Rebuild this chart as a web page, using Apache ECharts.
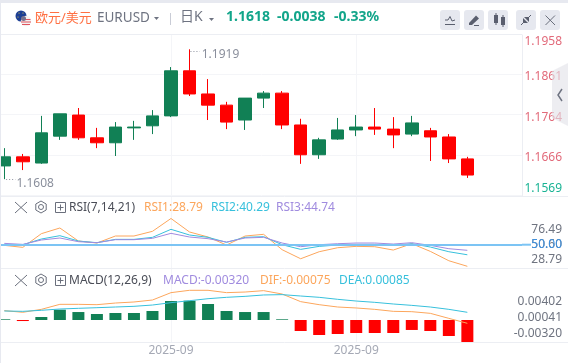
<!DOCTYPE html>
<html><head><meta charset="utf-8">
<style>html,body{margin:0;padding:0;background:#fff}#c{width:568px;height:363px}</style>
<script src="https://cdn.jsdelivr.net/npm/echarts@6/dist/echarts.min.js"></script>
</head><body><div id="c"></div>
<script>
const opens  = [1.1640,1.1662,1.1647,1.1712,1.1763,1.1708,1.1696,1.1732,1.1737,1.1761,1.1870,1.1814,1.1787,1.1751,1.1804,1.1816,1.1739,1.1667,1.1705,1.1727,1.1734,1.1729,1.1717,1.1725,1.1710,1.1657];
const closes = [1.1662,1.1650,1.1720,1.1766,1.1708,1.1696,1.1734,1.1734,1.1761,1.1870,1.1814,1.1787,1.1746,1.1804,1.1816,1.1739,1.1667,1.1703,1.1727,1.1734,1.1729,1.1715,1.1744,1.1710,1.1657,1.1618];
const lows   = [1.1608,1.1630,1.1645,1.1703,1.1703,1.1683,1.1664,1.1703,1.1717,1.1758,1.1809,1.1751,1.1729,1.1727,1.1780,1.1729,1.1645,1.1657,1.1703,1.1712,1.1715,1.1683,1.1712,1.1652,1.1647,1.1611];
const highs  = [1.1683,1.1669,1.1761,1.1766,1.1780,1.1732,1.1746,1.1749,1.1775,1.1879,1.1922,1.1850,1.1795,1.1804,1.1821,1.1821,1.1754,1.1708,1.1756,1.1763,1.1780,1.1758,1.1761,1.1732,1.1717,1.1662];
const rsi1 = [49.67,47.67,61.33,67,54,52,59,59,63.67,76.49,63,58,50,59,60.67,45.33,36.33,43.33,47.33,48.67,48.33,45,51.33,43.67,34.33,28.79];
const rsi2 = [50.67,50.33,56,59.33,54,52.33,55.67,55.67,57.67,65.67,60,57.67,52.67,57.67,58.33,50.33,45.67,48.67,50,50.67,50.67,49.67,51.33,48,43.33,40.29];
const rsi3 = [51.67,50.67,55,57,53.33,52.33,55.33,55.33,56.67,61.67,58,56.33,53,57,57.67,52,48.33,50.33,51.33,52,52,51,52.33,49.67,46.33,44.74];
const macdBars = [0.0001,-0.00015,0.00044,0.0015,0.00116,0.00087,0.00102,0.00102,0.00131,0.00276,0.00281,0.00233,0.00131,0.00116,0.00116,0.0001,-0.0016,-0.00218,-0.00204,-0.00189,-0.00189,-0.00189,-0.00145,-0.0016,-0.00233,-0.0032];
const dif = [0.00136,0.00112,0.00155,0.00228,0.00228,0.00223,0.00247,0.00262,0.00291,0.00398,0.00432,0.00432,0.00398,0.00407,0.00427,0.00378,0.00267,0.00223,0.00189,0.00175,0.00155,0.00126,0.00121,0.00097,0.00024,-0.00048];
const dea = [0.00131,0.00126,0.00141,0.0016,0.0017,0.00179,0.00189,0.00199,0.00218,0.00252,0.00281,0.0031,0.0033,0.00344,0.00364,0.00369,0.00349,0.0033,0.00301,0.00276,0.00257,0.00233,0.00213,0.00189,0.00155,0.00112];
const priceTicks = [1.1569,1.1666,1.1764,1.1861,1.1958];
const monthTickIndex = [9,19];
const monthLabel = '2025-09';
const highLabel = '1.1919', lowLabel = '1.1608';
const rsiTickLabels = [['76.49',230,'#6f7480'],['50.60',245,'#6f7480'],['50.00',245,'#3f92e0'],['28.79',260,'#6f7480']];
const macdTickLabels = [['0.00402',301.7],['0.00041',317.7],['-0.00320',333.3]];

const FONT = '"Noto Sans","Noto Sans CJK SC",sans-serif';
const UP = '#118055', DOWN = '#ff0000', GRID = '#f4f5f8', LINE='#eceef3';
const ORANGE='#fca65c', CYAN='#37c0dc', PURPLE='#a08bdf';
const idx = a => a.map((v,i)=>[i,v]);
const candles = opens.map((o,i)=>[i,o,closes[i],lows[i],highs[i]]);

const xBase = gi => ({type:'value',gridIndex:gi,min:-0.178,max:27.95,
  axisLine:{show:false},axisTick:{show:false,customValues:monthTickIndex},
  splitLine:{show:true,lineStyle:{color:GRID,width:1}},
  axisLabel:gi===2?{show:true,customValues:monthTickIndex,formatter:()=>monthLabel,color:'#a5a9b5',fontSize:12,fontFamily:FONT,margin:1,lineHeight:16}:{show:false}});

const T=(x,y,text,fill,size,extra)=>({type:'text',silent:true,z:10,style:Object.assign({x,y,text,fill,font:(extra&&extra.bold?'bold ':'')+size+'px '+FONT,textVerticalAlign:'middle',textAlign:(extra&&extra.align)||'left'})});
const L=(x1,y1,x2,y2,stroke,w)=>({type:'line',silent:true,z:10,shape:{x1,y1,x2,y2},style:{stroke,lineWidth:w||1}});
const R=(x,y,width,height,fill,r)=>({type:'rect',silent:true,z:9,shape:{x,y,width,height,r:r||0},style:{fill}});
const P=(points,stroke,w)=>({type:'polyline',silent:true,z:10,shape:{points},style:{stroke,lineWidth:w||1,fill:null}});
const G=(points,fill)=>({type:'polygon',silent:true,z:10,shape:{points},style:{fill}});
const C=(cx,cy,r,fill,stroke)=>({type:'circle',silent:true,z:10,shape:{cx,cy,r},style:stroke?{fill:'none',stroke,lineWidth:1}:{fill}});

function panelIcons(dy){
  const c='#6a6f7c';
  const h=[];for(let k=0;k<7;k++){const a=Math.PI/3*k+Math.PI/6;h.push([41+6*Math.cos(a),207+dy+6*Math.sin(a)]);}
  return [L(15,202+dy,27,213+dy,c),L(27,202+dy,15,213+dy,c),P(h,c),C(41,207+dy,2.5,null,c),
   {type:'rect',silent:true,z:10,shape:{x:55.5,y:202.5+dy,width:10,height:10},style:{fill:'none',stroke:c,lineWidth:1}},
   L(57.5,207.5+dy,63.5,207.5+dy,c),L(60.5,204.5+dy,60.5,210.5+dy,c)];
}
const ic='#5a5f6e';
const graphics = [
  R(0,0,568,3,'#e7e9f0'),R(0,0,1,363,'#e7e9f0'),
  // flags
  C(21,16,5.5,'#1c3f94'),C(19,13,.6,'#e8c93c'),C(23,13,.6,'#e8c93c'),C(18,17,.6,'#e8c93c'),C(24,17,.6,'#e8c93c'),
  C(26,21,5.2,'#f4f0f0'),L(21.5,19.5,30.5,19.5,'#e0555f'),L(21,22,31,22,'#e0555f'),L(22,24.5,30,24.5,'#e0555f'),
  C(23.5,18.5,2.5,'#76708c'),
  T(35,18,'欧元/美元','#ff7043',13),
  T(97,18.5,'EURUSD','#6e7381',13.5),
  G([[154,17],[159,17],[156.5,20]],'#6e7381'),
  L(170.5,13,170.5,25,'#c9ccd6'),
  T(180,17,'日K','#6e7381',14),
  G([[209,18],[214,18],[211.5,21]],'#6e7381'),
  T(226,17.5,'1.1618','#12a58a',14,{bold:1}),
  T(277,17.5,'-0.0038','#12a58a',14,{bold:1}),
  T(334,17.5,'-0.33%','#12a58a',14,{bold:1}),
  // buttons
  R(440,10,20,20,'#e6e8ef',3),R(464,10,20,20,'#e6e8ef',3),R(488,10,20,20,'#e6e8ef',3),R(516,10,20,20,'#e6e8ef',3),R(540,10,20,20,'#e6e8ef',3),
  L(445,24.5,455,24.5,ic),P([[445,20],[448,20],[450,16.5],[452,21],[455,20]],ic),
  G([[469,23],[476,15.5],[479,18.5],[472,25],[469,25]],ic),L(474,25.5,479,25.5,ic),
  R(494,15,4,8,ic),R(501,17,4,8,ic),L(496,13,496,25,ic),L(503,15,503,27,ic),
  L(521,25,525,21,ic),G([[523,18],[528,23],[523,23]],ic),L(531,15,527,19,ic),G([[529,17],[529,22],[524,17]],ic),
  L(545.5,15.5,555,25,'#6a6f7c'),L(555,15.5,545.5,25,'#6a6f7c'),
  // frame lines
  L(1,34.5,522,34.5,LINE),L(522.5,34.5,522.5,196,LINE),
  L(1,196.5,568,196.5,LINE),L(1,268.5,568,268.5,LINE),L(1,342.5,568,342.5,LINE),
  // side tab
  G([[568,63],[552,71],[552,118],[568,126]],'rgba(226,226,232,0.62)'),
  P([[562,89],[558,95],[562,101]],'#6e7381',1.5),
  // RSI legend
  ...panelIcons(0),
  T(69,207.5,'RSI(7,14,21)','#4a4d57',12),
  T(144,207.5,'RSI1:28.79',ORANGE,12),T(211,207.5,'RSI2:40.29',CYAN,12),T(276,207.5,'RSI3:44.74',PURPLE,12),
  L(522,244.7,531,244.7,'#7cc4f4',2),
  ...rsiTickLabels.map(t=>T(562,t[1],t[0],t[2],12,{align:'right'})),
  // MACD legend
  ...panelIcons(73),
  T(69,280.5,'MACD(12,26,9)','#4a4d57',12),
  T(163,280.5,'MACD:-0.00320',PURPLE,12),T(260,280.5,'DIF:-0.00075',ORANGE,12),T(339,280.5,'DEA:0.00085',CYAN,12),
  ...macdTickLabels.map(t=>T(562,t[1],t[0],'#6f7480',12,{align:'right'}))
];

const noteLine = (x0,x1,y,text,off) => ([
  {coord:[x0,y],symbol:'none',lineStyle:{color:'#8d919e',type:[1,2],width:1},
   label:{show:true,position:'end',formatter:text,color:'#8a8f9c',fontSize:12,fontFamily:FONT,distance:2,offset:off}},
  {coord:[x1,y],symbol:'none'}
]);

const lineS=(name,data,color,xi)=>({type:'line',name,xAxisIndex:xi,yAxisIndex:xi,data:idx(data),symbol:'none',smooth:false,lineStyle:{color,width:1},silent:true,z:3});

const option={
  animation:false,
  textStyle:{fontFamily:FONT},
  graphic:graphics,
  grid:[
    {left:1,width:521,top:34.4,height:160.9},
    {left:1,width:521,top:196,height:72.7},
    {left:1,width:521,top:269,height:73}
  ],
  xAxis:[xBase(0),xBase(1),xBase(2)],
  yAxis:[
    {type:'value',gridIndex:0,position:'right',min:priceTicks[0],max:priceTicks[4],scale:true,
     axisLine:{show:false},axisTick:{show:false,customValues:priceTicks},
     splitLine:{show:true,lineStyle:{color:GRID,width:1}},
     axisLabel:{customValues:priceTicks,margin:40,align:'right',fontSize:12,fontFamily:FONT,
       formatter:v=>{const s=v.toFixed(4);return v<1.16?'{g|'+s+'}':v>1.19?'{a|'+s+'}':'{m|'+s+'}';},
       rich:{g:{color:'#19b394',fontSize:12,fontFamily:FONT,padding:[0,0,1,0]},
             a:{color:'#e26a7a',fontSize:12,fontFamily:FONT,padding:[1,0,0,0]},
             m:{color:'#e26a7a',fontSize:12,fontFamily:FONT,padding:[5,0,0,0]}},
       verticalAlignMinLabel:'bottom',verticalAlignMaxLabel:'top'}},
    {type:'value',gridIndex:1,position:'right',min:26.4,max:98.9,axisLine:{show:false},axisTick:{show:false},splitLine:{show:false},axisLabel:{show:false}},
    {type:'value',gridIndex:2,position:'right',min:-0.0032,max:0.00742,axisLine:{show:false},axisTick:{show:false},splitLine:{show:false},axisLabel:{show:false}}
  ],
  series:[
    {type:'candlestick',xAxisIndex:0,yAxisIndex:0,data:candles,barWidth:13,silent:true,
     itemStyle:{color:UP,color0:DOWN,borderColor:UP,borderColor0:DOWN,borderWidth:1},
     markLine:{silent:true,animation:false,symbol:'none',data:[
       noteLine(10.05,10.55,highs[10]-0.0004,highLabel,[0,4]),
       noteLine(0.1,0.6,lows[0],lowLabel,[-1,4])
     ]}},
    Object.assign(lineS('RSI1',rsi1,ORANGE,1),{markLine:{silent:true,animation:false,symbol:'none',label:{show:false},lineStyle:{color:'#7cc4f4',width:2,type:'solid'},data:[{yAxis:50}]}}),
    lineS('RSI2',rsi2,CYAN,1),lineS('RSI3',rsi3,PURPLE,1),
    {type:'bar',xAxisIndex:2,yAxisIndex:2,data:macdBars.map((v,i)=>({value:[i,v],itemStyle:{color:v>=0?UP:DOWN}})),barWidth:12,silent:true},
    lineS('DIF',dif,ORANGE,2),lineS('DEA',dea,CYAN,2)
  ]
};
echarts.init(document.getElementById('c'),null,{renderer:'canvas'}).setOption(option);
</script></body></html>
